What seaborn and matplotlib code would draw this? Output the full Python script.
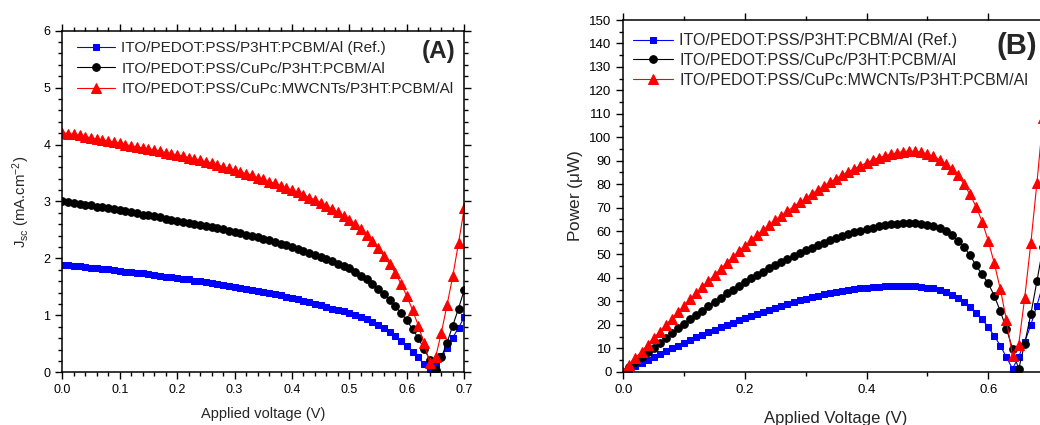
import numpy as np
import matplotlib
matplotlib.use("Agg")
import matplotlib.pyplot as plt
from matplotlib.ticker import MultipleLocator
import seaborn as sns

# ---- data ----
voltage = [0.00, 0.01, 0.02, 0.03, 0.04, 0.05, 0.06, 0.07, 0.08, 0.09,
           0.10, 0.11, 0.12, 0.13, 0.14, 0.15, 0.16, 0.17, 0.18, 0.19,
           0.20, 0.21, 0.22, 0.23, 0.24, 0.25, 0.26, 0.27, 0.28, 0.29,
           0.30, 0.31, 0.32, 0.33, 0.34, 0.35, 0.36, 0.37, 0.38, 0.39,
           0.40, 0.41, 0.42, 0.43, 0.44, 0.45, 0.46, 0.47, 0.48, 0.49,
           0.50, 0.51, 0.52, 0.53, 0.54, 0.55, 0.56, 0.57, 0.58, 0.59,
           0.60, 0.61, 0.62, 0.63, 0.64, 0.65, 0.66, 0.67, 0.68, 0.69,
           0.70]

labels = ["ITO/PEDOT:PSS/P3HT:PCBM/Al (Ref.)",
          "ITO/PEDOT:PSS/CuPc/P3HT:PCBM/Al",
          "ITO/PEDOT:PSS/CuPc:MWCNTs/P3HT:PCBM/Al"]

# (A) current density, mA/cm2
jsc_ref = [1.89, 1.88, 1.87, 1.86, 1.85, 1.84, 1.83, 1.82, 1.81, 1.79,
           1.78, 1.77, 1.76, 1.75, 1.74, 1.72, 1.71, 1.70, 1.68, 1.67,
           1.66, 1.64, 1.63, 1.61, 1.60, 1.58, 1.57, 1.55, 1.54, 1.52,
           1.50, 1.48, 1.47, 1.45, 1.43, 1.41, 1.39, 1.37, 1.35, 1.32,
           1.30, 1.28, 1.25, 1.23, 1.20, 1.18, 1.15, 1.12, 1.10, 1.07,
           1.04, 1.01, 0.97, 0.93, 0.88, 0.83, 0.77, 0.70, 0.63, 0.55,
           0.46, 0.36, 0.26, 0.14, 0.03, 0.14, 0.28, 0.43, 0.61, 0.78,
           0.97]
jsc_cupc = [3.00, 2.99, 2.97, 2.96, 2.94, 2.93, 2.91, 2.90, 2.88, 2.87,
            2.85, 2.83, 2.81, 2.79, 2.77, 2.76, 2.74, 2.72, 2.70, 2.68,
            2.66, 2.64, 2.62, 2.60, 2.58, 2.57, 2.55, 2.53, 2.51, 2.49,
            2.47, 2.45, 2.42, 2.40, 2.37, 2.35, 2.32, 2.29, 2.26, 2.23,
            2.20, 2.17, 2.13, 2.10, 2.06, 2.02, 1.99, 1.95, 1.91, 1.87,
            1.83, 1.77, 1.70, 1.63, 1.55, 1.46, 1.37, 1.27, 1.16, 1.04,
            0.91, 0.76, 0.60, 0.41, 0.22, 0.04, 0.26, 0.52, 0.82, 1.12,
            1.45]
jsc_cnt = [4.21, 4.19, 4.18, 4.16, 4.14, 4.12, 4.10, 4.08, 4.06, 4.04,
           4.02, 4.00, 3.98, 3.96, 3.94, 3.92, 3.90, 3.88, 3.86, 3.84,
           3.82, 3.80, 3.77, 3.75, 3.72, 3.70, 3.67, 3.64, 3.61, 3.58,
           3.55, 3.52, 3.49, 3.46, 3.42, 3.39, 3.35, 3.32, 3.28, 3.24,
           3.20, 3.16, 3.12, 3.07, 3.03, 2.98, 2.92, 2.87, 2.81, 2.74,
           2.68, 2.60, 2.51, 2.41, 2.30, 2.18, 2.04, 1.90, 1.74, 1.55,
           1.34, 1.09, 0.82, 0.51, 0.17, 0.26, 0.69, 1.18, 1.69, 2.27,
           2.88]

# (B) power, uW
pow_ref = [0.0, 1.3, 2.6, 3.9, 5.1, 6.3, 7.6, 8.8, 10.0, 11.1,
           12.3, 13.4, 14.6, 15.7, 16.8, 17.8, 18.9, 19.9, 20.9, 21.9,
           22.9, 23.7, 24.7, 25.5, 26.5, 27.3, 28.2, 28.9, 29.8, 30.4,
           31.1, 31.7, 32.4, 33.0, 33.5, 34.0, 34.5, 35.0, 35.4, 35.6,
           35.9, 36.2, 36.3, 36.5, 36.5, 36.6, 36.5, 36.4, 36.4, 36.1,
           35.9, 35.5, 34.8, 34.0, 32.8, 31.5, 29.8, 27.5, 25.2, 22.4,
           19.0, 15.2, 11.1, 6.1, 1.3, 6.3, 12.7, 19.9, 28.2, 37.2,
           46.9]
pow_cupc = [0.0, 2.1, 4.2, 6.2, 8.2, 10.2, 12.2, 14.3, 16.3, 18.5,
            20.5, 22.3, 24.2, 26.0, 28.0, 29.9, 31.6, 33.4, 35.0, 36.7,
            38.3, 39.8, 41.3, 42.7, 44.2, 45.5, 46.9, 48.1, 49.4, 50.6,
            51.8, 52.9, 54.0, 55.0, 56.0, 56.9, 57.8, 58.6, 59.5, 60.2,
            60.9, 61.5, 62.0, 62.5, 62.9, 63.1, 63.3, 63.3, 63.3, 63.0,
            62.6, 62.0, 61.1, 59.9, 58.2, 55.9, 53.2, 49.7, 45.3, 41.5,
            37.7, 32.4, 25.7, 18.3, 9.7, 1.0, 12.0, 24.5, 38.5, 53.0,
            70.0]
pow_cnt = [0.0, 2.9, 5.8, 8.6, 11.5, 14.3, 17.1, 19.9, 22.6, 25.4,
           28.1, 30.8, 33.4, 36.0, 38.6, 41.2, 43.8, 46.3, 48.8, 51.3,
           53.7, 56.0, 58.3, 60.5, 62.5, 64.5, 66.5, 68.5, 70.4, 72.2,
           74.0, 75.8, 77.6, 79.3, 80.9, 82.4, 83.9, 85.3, 86.6, 87.9,
           89.1, 90.2, 91.2, 92.0, 92.8, 93.4, 93.9, 94.1, 94.0, 93.6,
           92.9, 91.8, 90.5, 88.7, 86.5, 83.7, 80.0, 75.6, 70.4, 64.0,
           55.9, 46.2, 35.1, 22.0, 6.7, 11.4, 31.6, 54.7, 80.3, 108.0,
           139.0]

colors = ["#0000ff", "#000000", "#ff0000"]
markers = ["s", "o", "^"]
msizes = [5, 5.5, 7.5]

sns.set_style("ticks")
plt.rcParams["font.family"] = ["Liberation Sans", "DejaVu Sans"]
plt.rcParams["mathtext.default"] = "regular"

fig = plt.figure(figsize=(10.4, 4.25), dpi=100)
axA = fig.add_axes([0.0599, 0.124, 0.3865, 0.8038])
axB = fig.add_axes([0.5993, 0.1254, 0.4094, 0.8275])


def draw(ax, series):
    for y, lab, c, m, ms in zip(series, labels, colors, markers, msizes):
        sns.lineplot(x=voltage, y=y, ax=ax, color=c, marker=m, markersize=ms,
                     markeredgecolor=c, markerfacecolor=c, linewidth=0.8,
                     estimator=None, sort=False, label=lab)


def style_ticks(ax, ticksize):
    ax.tick_params(which="both", direction="out", top=True, right=True,
                   labelsize=ticksize, width=1.0, colors="black")
    ax.tick_params(which="major", length=5)
    ax.tick_params(which="minor", length=3)
    for s in ax.spines.values():
        s.set_linewidth(1.1)
        s.set_color("black")
        s.set_visible(True)


# ---- (A) ----
draw(axA, [jsc_ref, jsc_cupc, jsc_cnt])
xticksA = [0.0, 0.1, 0.2, 0.3, 0.4, 0.5, 0.6, 0.7]
axA.set_xticks(xticksA)
axA.set_xticklabels([f"{v:.1f}" for v in xticksA])
axA.xaxis.set_minor_locator(MultipleLocator(0.02))
axA.yaxis.set_major_locator(MultipleLocator(1))
axA.yaxis.set_minor_locator(MultipleLocator(0.2))
axA.set_xlim(0, 0.7)
axA.set_ylim(0, 6)
style_ticks(axA, 9)
axA.set_xlabel("Applied voltage (V)", fontsize=10.5, labelpad=8)
axA.set_ylabel("J$_{sc}$ (mA.cm$^{-2}$)", fontsize=10.7, labelpad=8)
axA.legend(loc="upper left", bbox_to_anchor=(0.01, 1.0), frameon=False,
           fontsize=11, handlelength=2.5, labelspacing=0.42,
           handletextpad=0.4, borderaxespad=0.3)
axA.text(0.935, 0.94, "(A)", transform=axA.transAxes, ha="center", va="center",
         fontsize=17.5, fontweight="bold")

# ---- (B) ----
draw(axB, [pow_ref, pow_cupc, pow_cnt])
axB.set_xticks([0.0, 0.2, 0.4, 0.6])
axB.set_xticklabels(["0.0", "0.2", "0.4", "0.6"])
axB.xaxis.set_minor_locator(MultipleLocator(0.1))
axB.yaxis.set_major_locator(MultipleLocator(10))
axB.yaxis.set_minor_locator(MultipleLocator(5))
axB.set_xlim(0, 0.7)
axB.set_ylim(0, 150)
style_ticks(axB, 9.5)
axB.set_xlabel("Applied Voltage (V)", fontsize=12, labelpad=11)
axB.set_ylabel("Power ($\\mu$W)", fontsize=12.4, labelpad=3)
axB.legend(loc="upper left", bbox_to_anchor=(0.0, 0.99), frameon=False,
           fontsize=11.5, handlelength=2.5, labelspacing=0.3,
           handletextpad=0.4, borderaxespad=0.2)
axB.text(0.925, 0.925, "(B)", transform=axB.transAxes, ha="center", va="center",
         fontsize=21, fontweight="bold")

fig.savefig("out.png", dpi=100)
